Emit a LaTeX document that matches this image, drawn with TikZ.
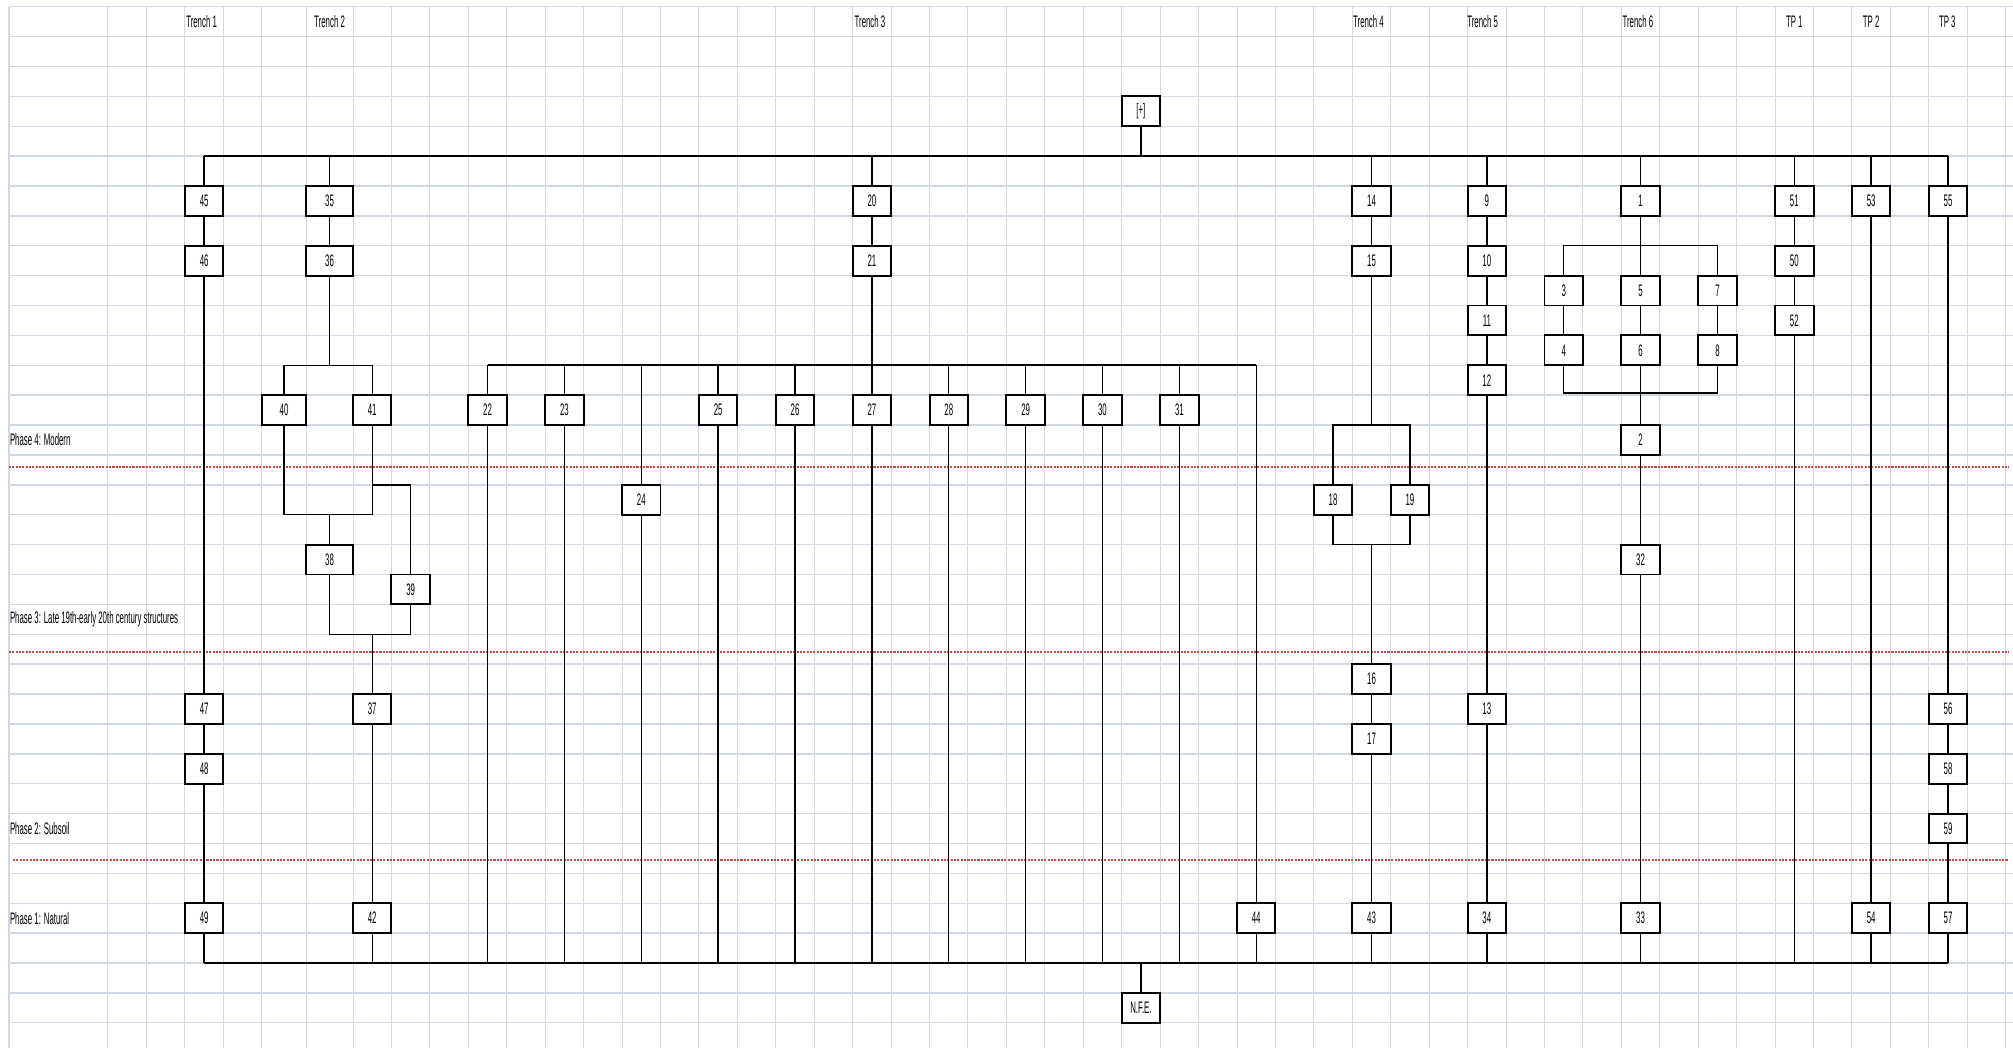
\documentclass[tikz,border=0pt]{standalone}
\usepackage{fontspec}
\newfontfamily\celda[FakeStretch=0.47]{Liberation Sans}
\definecolor{figRejilla}{RGB}{208,215,229}
\definecolor{figFase}{RGB}{195,75,72}
\tikzset{
  rejilla/.style={draw=figRejilla, line width=0.8pt},
  rejillah/.style={draw=figRejilla, line width=1.1pt},
  limite/.style={draw=figFase, line width=1.6pt, densely dotted},
  ue/.style={
    rectangle, draw=black, line width=1.5pt, fill=white,
    minimum width=29.94pt, minimum height=23.28pt, inner sep=0pt,
    font={\celda\fontsize{13pt}{13pt}\selectfont}
  },
  titulo/.style={inner sep=0pt, font={\celda\fontsize{13pt}{13pt}\selectfont}},
  etiqueta/.style={anchor=west, inner sep=0.6pt, font={\celda\fontsize{13pt}{13pt}\selectfont}},
  enlace/.style={draw=black, line width=1.1pt},
  barra/.style={draw=black, line width=1.8pt}
}

\begin{document}
\begin{tikzpicture}[x=29.94pt, y=-23.28pt]
  \useasboundingbox (-9.185,-0.223) rectangle (43.19,34.83);
  % hoja de calculo
  \foreach \x in {-8.951,-6.379,-5.377,-4.375,-3.373,-2.371,-1.219}
    \draw[rejilla] (\x,0) -- (\x,34.83);
  \foreach \x in {0,1,...,43}
    \draw[rejilla] (\x,0) -- (\x,34.83);
  \foreach \y in {0,1,...,34}
    \draw[rejillah] (-8.951,\y) -- (43.19,\y);
  \draw[limite] (-8.951,15.39) -- (43.08,15.39);
  \draw[limite] (-8.951,21.58) -- (43.08,21.58);
  \draw[limite] (-8.85,28.56) -- (43.08,28.56);

  % titulos
  \node[titulo] (t1) at (-3.94,0.5) {Trench 1};
  \node[titulo] (t2) at (-0.61,0.5) {Trench 2};
  \node[titulo] (t3) at (13.45,0.5) {Trench 3};
  \node[titulo] (t4) at (26.42,0.5) {Trench 4};
  \node[titulo] (t5) at (29.39,0.5) {Trench 5};
  \node[titulo] (t6) at (33.43,0.5) {Trench 6};
  \node[titulo] (tp1) at (37.5,0.5) {TP 1};
  \node[titulo] (tp2) at (39.5,0.5) {TP 2};
  \node[titulo] (tp3) at (41.48,0.5) {TP 3};

  % fases
  \node[etiqueta] (fase4) at (-8.951,14.5) {Phase 4: Modern};
  \node[etiqueta] (fase3) at (-8.951,20.5) {Phase 3: Late 19th-early 20th century structures};
  \node[etiqueta] (fase2) at (-8.951,27.5) {Phase 2: Subsoil};
  \node[etiqueta] (fase1) at (-8.951,30.5) {Phase 1: Natural};

  \coordinate (barraSup) at (0,5);
  \coordinate (barraInf) at (0,32);
  \coordinate (barraT2) at (0,12);
  \coordinate (ramaT2) at (0,16);
  \coordinate (unionT2) at (0,17);
  \coordinate (cierreT2) at (0,21);
  \coordinate (ramaT4) at (0,14);
  \coordinate (cierreT4) at (0,18);
  \coordinate (ramaT6) at (0,8);
  \coordinate (cierreT6) at (0,12.93);

  \node[ue] (sup) at (20.5,3.5) {[+]};
  \node[ue] (nfe) at (20.5,33.5) {N.F.E.};

  % Trench 1
  \node[ue] (u45) at (-3.874,6.5) {45};
  \node[ue] (u46) at (-3.874,8.5) {46};
  \node[ue] (u47) at (-3.874,23.5) {47};
  \node[ue] (u48) at (-3.874,25.5) {48};
  \node[ue] (u49) at (-3.874,30.5) {49};

  % Trench 2
  \node[ue, minimum width=36.5pt] (u35) at (-0.61,6.5) {35};
  \node[ue, minimum width=36.5pt] (u36) at (-0.61,8.5) {36};
  \node[ue, minimum width=34.5pt] (u40) at (-1.795,13.5) {40};
  \node[ue] (u41) at (0.5,13.5) {41};
  \node[ue, minimum width=36.5pt] (u38) at (-0.61,18.5) {38};
  \node[ue] (u39) at (1.5,19.5) {39};
  \node[ue] (u37) at (0.5,23.5) {37};
  \node[ue] (u42) at (0.5,30.5) {42};

  % Trench 3
  \node[ue] (u20) at (13.5,6.5) {20};
  \node[ue] (u21) at (13.5,8.5) {21};
  \node[ue] (u22) at (3.5,13.5) {22};
  \node[ue] (u23) at (5.5,13.5) {23};
  \node[ue] (u24) at (7.5,16.5) {24};
  \node[ue] (u25) at (9.5,13.5) {25};
  \node[ue] (u26) at (11.5,13.5) {26};
  \node[ue] (u27) at (13.5,13.5) {27};
  \node[ue] (u28) at (15.5,13.5) {28};
  \node[ue] (u29) at (17.5,13.5) {29};
  \node[ue] (u30) at (19.5,13.5) {30};
  \node[ue] (u31) at (21.5,13.5) {31};
  \node[ue] (u44) at (23.5,30.5) {44};

  % Trench 4
  \node[ue] (u14) at (26.5,6.5) {14};
  \node[ue] (u15) at (26.5,8.5) {15};
  \node[ue] (u18) at (25.5,16.5) {18};
  \node[ue] (u19) at (27.5,16.5) {19};
  \node[ue] (u16) at (26.5,22.5) {16};
  \node[ue] (u17) at (26.5,24.5) {17};
  \node[ue] (u43) at (26.5,30.5) {43};

  % Trench 5
  \node[ue] (u9) at (29.5,6.5) {9};
  \node[ue] (u10) at (29.5,8.5) {10};
  \node[ue] (u11) at (29.5,10.5) {11};
  \node[ue] (u12) at (29.5,12.5) {12};
  \node[ue] (u13) at (29.5,23.5) {13};
  \node[ue] (u34) at (29.5,30.5) {34};

  % Trench 6
  \node[ue] (u1) at (33.5,6.5) {1};
  \node[ue] (u3) at (31.5,9.5) {3};
  \node[ue] (u5) at (33.5,9.5) {5};
  \node[ue] (u7) at (35.5,9.5) {7};
  \node[ue] (u4) at (31.5,11.5) {4};
  \node[ue] (u6) at (33.5,11.5) {6};
  \node[ue] (u8) at (35.5,11.5) {8};
  \node[ue] (u2) at (33.5,14.5) {2};
  \node[ue] (u32) at (33.5,18.5) {32};
  \node[ue] (u33) at (33.5,30.5) {33};

  % TP 1-3
  \node[ue] (u51) at (37.5,6.5) {51};
  \node[ue] (u50) at (37.5,8.5) {50};
  \node[ue] (u52) at (37.5,10.5) {52};
  \node[ue] (u53) at (39.5,6.5) {53};
  \node[ue] (u54) at (39.5,30.5) {54};
  \node[ue] (u55) at (41.5,6.5) {55};
  \node[ue] (u56) at (41.5,23.5) {56};
  \node[ue] (u58) at (41.5,25.5) {58};
  \node[ue] (u59) at (41.5,27.5) {59};
  \node[ue] (u57) at (41.5,30.5) {57};

  % arriba y abajo
  \draw[enlace] (sup) -- (sup |- barraSup);
  \draw[barra] (u45 |- barraSup) -- (u55 |- barraSup);
  \foreach \u in {45,35,20,14,9,1,51,53,55}
    \draw[enlace] (u\u |- barraSup) -- (u\u);
  \foreach \u in {49,42,22,23,24,25,26,27,28,29,30,31,44,43,34,33,52,54,57}
    \draw[enlace] (u\u) -- (u\u |- barraInf);
  \draw[barra] (u49 |- barraInf) -- (u57 |- barraInf);
  \draw[enlace] (nfe) -- (nfe |- barraInf);

  % Trench 1
  \draw[enlace] (u45) -- (u46) -- (u47) -- (u48) -- (u49);

  % Trench 2
  \draw[enlace] (u35) -- (u36) -- (u36 |- barraT2);
  \draw[enlace] (u40) -- (u40 |- barraT2) -- (u41 |- barraT2) -- (u41);
  \draw[enlace] (u40) -- (u40 |- unionT2) -- (u41 |- unionT2) -- (u41);
  \draw[enlace] (u41 |- ramaT2) -- (u39 |- ramaT2) -- (u39);
  \draw[enlace] (u38 |- unionT2) -- (u38);
  \draw[enlace] (u38) -- (u38 |- cierreT2) -- (u39 |- cierreT2) -- (u39);
  \draw[enlace] (u37 |- cierreT2) -- (u37) -- (u42);

  % Trench 3
  \draw[enlace] (u20) -- (u21) -- (u27);
  \draw[barra] (u22 |- barraT2) -- (u44 |- barraT2);
  \foreach \u in {22,23,24,25,26,28,29,30,31,44}
    \draw[enlace] (u\u |- barraT2) -- (u\u);

  % Trench 4
  \draw[enlace] (u14) -- (u15) -- (u15 |- ramaT4);
  \draw[enlace] (u18) -- (u18 |- ramaT4) -- (u19 |- ramaT4) -- (u19);
  \draw[enlace] (u18) -- (u18 |- cierreT4) -- (u19 |- cierreT4) -- (u19);
  \draw[enlace] (u16 |- cierreT4) -- (u16) -- (u17) -- (u43);

  % Trench 5
  \draw[enlace] (u9) -- (u10) -- (u11) -- (u12) -- (u13) -- (u34);

  % Trench 6
  \draw[enlace] (u1) -- (u5) -- (u6) -- (u2) -- (u32) -- (u33);
  \draw[enlace] (u3) -- (u3 |- ramaT6) -- (u7 |- ramaT6) -- (u7);
  \draw[enlace] (u3) -- (u4);
  \draw[enlace] (u7) -- (u8);
  \draw[enlace] (u4) -- (u4 |- cierreT6) -- (u8 |- cierreT6) -- (u8);

  % TP
  \draw[enlace] (u51) -- (u50) -- (u52);
  \draw[enlace] (u53) -- (u54);
  \draw[enlace] (u55) -- (u56) -- (u58) -- (u59) -- (u57);
\end{tikzpicture}
\end{document}
